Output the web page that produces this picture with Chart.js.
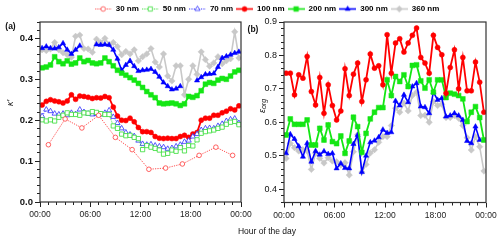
<!DOCTYPE html>
<html><head><meta charset="utf-8">
<script src="https://cdn.jsdelivr.net/npm/chart.js@4/dist/chart.umd.min.js"></script>
<style>
html,body{margin:0;padding:0;background:#fff;}
#wrap{position:relative;width:500px;height:243px;overflow:hidden;background:#fff;}
#wrap canvas{position:absolute;top:0;}
</style></head><body>
<div id="wrap">
<canvas id="frame" width="500" height="243" style="left:0"></canvas>
<canvas id="ca" width="262" height="243" style="left:0"></canvas>
<canvas id="cb" width="260" height="243" style="left:240px"></canvas>
</div>
<script>
// ---------------- data ----------------
const SIZES = ['30 nm','50 nm','70 nm','100 nm','200 nm','300 nm','360 nm'];
const HOURS = [0.25,0.75,1.25,1.75,2.25,2.75,3.25,3.75,4.25,4.75,5.25,5.75,
               6.25,6.75,7.25,7.75,8.25,8.75,9.25,9.75,10.25,10.75,11.25,11.75,
               12.25,12.75,13.25,13.75,14.25,14.75,15.25,15.75,16.25,16.75,17.25,17.75,
               18.25,18.75,19.25,19.75,20.25,20.75,21.25,21.75,22.25,22.75,23.25,23.75];
const HOURS_30 = [1,3,5,7,9,11,13,15,17,19,21,23];
const HOUR_TICKS = [0,6,12,18,24];
const KAPPA_TICKS = [0,0.1,0.2,0.3,0.4];
const EORG_TICKS = [0.4,0.5,0.6,0.7,0.8,0.9];

// panel (a): kappa
const K30 = [0.140,0.203,0.181,0.212,0.158,0.128,0.080,0.083,0.093,0.114,0.134,0.114];
const K50 = [0.201,0.198,0.201,0.198,0.207,0.212,0.218,0.214,0.214,0.212,0.218,0.217,
             0.221,0.219,0.216,0.214,0.214,0.186,0.180,0.166,0.162,0.163,0.158,0.155,
             0.128,0.138,0.134,0.131,0.127,0.117,0.119,0.127,0.124,0.133,0.125,0.138,
             0.137,0.152,0.168,0.172,0.174,0.176,0.180,0.183,0.190,0.195,0.197,0.189];
const K70 = [0.210,0.226,0.222,0.216,0.214,0.216,0.212,0.218,0.215,0.226,0.220,0.216,
             0.214,0.215,0.214,0.218,0.224,0.208,0.193,0.180,0.170,0.165,0.161,0.150,
             0.142,0.140,0.141,0.138,0.136,0.134,0.130,0.132,0.136,0.140,0.147,0.150,
             0.160,0.166,0.176,0.180,0.181,0.180,0.186,0.191,0.198,0.202,0.204,0.193];
const K100 = [0.237,0.246,0.250,0.247,0.245,0.242,0.247,0.262,0.251,0.259,0.258,0.256,
              0.253,0.255,0.254,0.258,0.255,0.232,0.210,0.200,0.199,0.205,0.196,0.182,
              0.172,0.172,0.170,0.160,0.156,0.155,0.156,0.155,0.155,0.160,0.163,0.158,
              0.166,0.170,0.200,0.205,0.205,0.212,0.212,0.218,0.222,0.228,0.225,0.235];
const K200 = [0.328,0.330,0.335,0.355,0.343,0.338,0.345,0.337,0.340,0.352,0.343,0.346,
              0.340,0.338,0.340,0.352,0.343,0.333,0.322,0.315,0.310,0.304,0.298,0.290,
              0.280,0.270,0.262,0.255,0.242,0.240,0.241,0.242,0.240,0.236,0.240,0.258,
              0.256,0.260,0.272,0.288,0.292,0.290,0.298,0.302,0.300,0.308,0.318,0.322];
const K300 = [0.376,0.380,0.376,0.375,0.378,0.388,0.372,0.362,0.372,0.382,null,null,
              null,0.385,0.384,0.385,0.384,0.372,0.350,0.322,0.335,0.345,0.332,0.320,
              0.322,0.323,0.325,0.318,0.306,0.292,0.283,0.275,0.277,0.283,null,null,
              null,0.297,0.305,0.312,0.313,0.314,0.330,0.352,0.356,0.360,0.364,0.367];
const K360 = [0.372,0.370,0.374,0.390,0.372,0.365,0.360,0.354,0.405,0.408,0.375,0.374,
              0.366,0.398,0.390,0.400,0.385,0.390,0.380,0.360,0.368,0.362,0.372,0.345,
              0.355,0.362,0.375,0.342,0.330,0.362,0.308,0.296,0.333,0.333,0.262,0.300,
              0.333,0.312,0.367,0.348,0.332,0.340,0.355,0.338,0.345,0.350,0.416,0.352];

// panel (b): epsilon_org
const E100 = [0.747,0.747,0.682,0.742,0.732,0.797,0.692,0.652,0.734,0.627,0.712,0.650,
              0.607,0.634,0.760,0.680,0.744,0.777,0.662,0.727,0.804,0.762,0.769,0.712,
              0.862,0.747,0.837,0.850,0.810,0.837,0.860,0.882,0.794,0.777,0.747,0.860,
              0.824,0.802,0.687,0.764,0.817,0.700,0.794,0.694,0.694,0.780,0.720,0.630];
const E200 = [0.562,0.610,0.594,0.594,0.594,0.607,0.532,0.532,0.582,0.547,0.592,0.542,
              0.536,0.559,0.507,0.544,0.615,0.587,0.510,0.567,0.610,0.630,0.644,0.644,
              0.727,0.680,0.737,0.722,0.742,0.707,0.770,0.772,0.724,0.702,0.727,0.690,
              0.727,0.727,0.674,0.687,0.684,0.680,0.670,0.602,0.630,0.647,0.614,0.547];
const E300 = [0.507,0.564,0.550,0.528,0.497,0.537,0.482,0.514,0.503,0.513,0.505,0.507,
              0.462,0.477,0.463,0.462,0.535,0.562,0.451,0.500,0.540,0.545,0.555,0.578,
              0.568,0.570,0.664,0.650,0.682,0.660,0.707,0.717,0.647,0.645,0.627,0.690,
              0.667,0.672,0.617,0.620,0.627,0.620,0.607,0.544,0.537,0.587,0.547,null];
const E360 = [0.492,0.537,0.524,0.514,0.518,0.514,0.459,0.507,0.492,0.478,0.494,0.484,
              0.482,0.472,0.479,0.442,0.512,0.563,0.451,0.474,0.508,0.518,0.540,0.557,
              0.557,0.590,0.642,0.630,0.657,0.634,0.680,0.690,0.620,0.621,0.600,0.662,
              0.650,0.654,0.614,0.614,0.620,0.612,0.590,0.554,0.517,0.557,0.527,0.454];

// ---------------- styles ----------------
const FONT = '"Liberation Sans", Arial, sans-serif';
const STYLE = {
  '30 nm':  {color:'#ff3b3b', point:'circle',   r:2.3, open:true,  dash:[1.2,1.2], width:0.9},
  '50 nm':  {color:'#33dd33', point:'rect',     r:3.0, open:true,  dash:[1.2,1.2], width:0.9},
  '70 nm':  {color:'#3030ff', point:'triangle', r:3.0, open:true,  dash:[1.2,1.2], width:0.9},
  '100 nm': {color:'#ff0000', point:'circle',   r:2.5, open:false, dash:[],        width:1.8},
  '200 nm': {color:'#14e614', point:'rect',     r:3.4, open:false, dash:[],        width:1.8},
  '300 nm': {color:'#0000ff', point:'triangle', r:3.0, open:false, dash:[],        width:1.6},
  '360 nm': {color:'#c8c8c8', point:'rectRot',  r:3.2, open:false, dash:[],        width:1.6}
};

function pts(xs, ys){ return xs.map((x,i)=>({x:x, y:ys[i]})); }

function makeDataset(label, xs, ys){
  const s = STYLE[label];
  return {
    label: label, data: pts(xs, ys), xAxisID:'x', yAxisID:'y',
    borderColor: s.color, borderWidth: s.width, borderDash: s.dash,
    pointStyle: s.point, pointRadius: s.r, pointHoverRadius: s.r,
    pointBackgroundColor: s.open ? '#ffffff' : s.color,
    pointBorderColor: s.color, pointBorderWidth: s.open ? 0.8 : 0.5,
    fill:false, tension:0, spanGaps:false
  };
}

// legend icons: line + marker
function drawMarker(c, kind, x, y, r){
  c.beginPath();
  if (kind==='circle'){ c.arc(x,y,r,0,Math.PI*2); }
  else if (kind==='rect'){ const h=r*Math.SQRT1_2; c.rect(x-h,y-h,2*h,2*h); }
  else if (kind==='triangle'){
    c.moveTo(x, y-r); c.lineTo(x+r*0.866, y+r*0.5); c.lineTo(x-r*0.866, y+r*0.5); c.closePath();
  } else if (kind==='rectRot'){
    c.moveTo(x,y-r); c.lineTo(x+r,y); c.lineTo(x,y+r); c.lineTo(x-r,y); c.closePath();
  }
  c.fill(); c.stroke();
}
function legendIcon(label){
  const s = STYLE[label];
  const cv = document.createElement('canvas'); cv.width = 17; cv.height = 9;
  const c = cv.getContext('2d');
  c.strokeStyle = s.color; c.lineWidth = s.open ? 1 : 1.6; c.setLineDash(s.open ? [1.2,1.2] : []);
  c.beginPath(); c.moveTo(0,4.5); c.lineTo(17,4.5); c.stroke();
  c.setLineDash([]);
  c.fillStyle = s.open ? '#ffffff' : s.color; c.lineWidth = s.open ? 0.8 : 0.5;
  drawMarker(c, s.point, 8.5, 4.5, s.r);
  return cv;
}

// ---------------- plugins ----------------
const boxFrame = {
  id:'boxframe',
  afterDraw(chart, args, opts){
    const a = chart.chartArea, c = chart.ctx;
    c.save(); c.strokeStyle = opts.color || '#222'; c.lineWidth = opts.width || 1;
    c.strokeRect(a.left, a.top, a.right - a.left, a.bottom - a.top);
    c.restore();
  }
};
const annot = {
  id:'annot',
  afterDraw(chart, args, opts){
    const c = chart.ctx;
    (opts.items || []).forEach(it => {
      c.save();
      c.translate(it.x, it.y);
      if (it.rotate) c.rotate(it.rotate * Math.PI / 180);
      c.fillStyle = it.color || '#111';
      c.textBaseline = 'middle';
      c.font = it.font;
      const w1 = c.measureText(it.text).width;
      let w2 = 0;
      if (it.sub){ c.font = it.subFont; w2 = c.measureText(it.sub).width; }
      const x0 = -(w1 + w2) / 2;
      c.font = it.font; c.textAlign = 'left';
      c.fillText(it.text, x0, 0);
      if (it.sub){ c.font = it.subFont; c.fillText(it.sub, x0 + w1, 2.5); }
      c.restore();
    });
  }
};

// ---------------- frame chart: legend + x title ----------------
new Chart(document.getElementById('frame'), {
  type:'line',
  data:{ datasets: SIZES.map(l => ({label:l, data:[]})) },
  options:{
    responsive:false, animation:false, devicePixelRatio:1,
    layout:{ padding:{ left:34, right:0, top:2, bottom:0 } },
    scales:{ x:{display:false}, y:{display:false} },
    plugins:{
      tooltip:{enabled:false},
      legend:{
        display:true, position:'top', align:'center',
        labels:{
          usePointStyle:true, pointStyleWidth:17, boxHeight:8, padding:3,
          color:'#111', font:{family:FONT, size:8, weight:'bold'},
          generateLabels: chart => chart.data.datasets.map((ds,i) => ({
            text: ds.label, pointStyle: legendIcon(ds.label), fillStyle:'#fff',
            strokeStyle: STYLE[ds.label].color, lineWidth:0, hidden:false, datasetIndex:i
          }))
        }
      },
      title:{
        display:true, position:'bottom', text:'Hour of the day', color:'#111',
        font:{family:FONT, size:8.5, weight:'normal'}, padding:{top:0, bottom:6}
      }
    }
  }
});

// ---------------- axis helpers ----------------
function fixedTicks(list){ return s => { s.ticks = list.map(v => ({value:v})); }; }
function minorTicks(min, max, step){
  return s => { const t=[]; const n=Math.round((max-min)/step);
    for (let i=0;i<=n;i++) t.push({value: +(min + i*step).toFixed(4)}); s.ticks = t; };
}
const hourLabel = v => String(v % 24).padStart(2,'0') + ':00';

function scalesFor(ymin, ymax, yticks, ystep, yWidth, yFont){
  return {
    x:{ type:'linear', min:0, max:24, position:'bottom', weight:1,
        afterBuildTicks: fixedTicks(HOUR_TICKS),
        afterFit: s => { s.height = 20; },
        ticks:{ callback: hourLabel, color:'#222', font:{family:FONT, size:8.5}, padding:3, maxRotation:0, autoSkip:false },
        grid:{ drawOnChartArea:false, tickLength:5, color:'#222', tickWidth:1 },
        border:{ display:false } },
    xm:{ type:'linear', min:0, max:24, position:'bottom', weight:0,
        afterBuildTicks: minorTicks(0, 24, 1),
        afterFit: s => { s.height = 0; },
        ticks:{ display:false },
        grid:{ drawOnChartArea:false, tickLength:3, color:'#222', tickWidth:1 },
        border:{ display:false } },
    y:{ type:'linear', min:ymin, max:ymax, position:'left', weight:1,
        afterBuildTicks: fixedTicks(yticks),
        afterFit: s => { s.width = yWidth; },
        ticks:{ callback: v => v.toFixed(1), color:'#111', font:yFont, padding:2 },
        grid:{ drawOnChartArea:false, tickLength:5, color:'#222', tickWidth:1 },
        border:{ display:false } },
    ym:{ type:'linear', min:ymin, max:ymax, position:'left', weight:0,
        afterBuildTicks: minorTicks(ymin, ymax, ystep),
        afterFit: s => { s.width = 0; },
        ticks:{ display:false },
        grid:{ drawOnChartArea:false, tickLength:3, color:'#222', tickWidth:1 },
        border:{ display:false } }
  };
}

// ---------------- panel (a) ----------------
new Chart(document.getElementById('ca'), {
  type:'line',
  data:{ datasets:[
    makeDataset('30 nm', HOURS_30, K30),
    makeDataset('50 nm', HOURS, K50),
    makeDataset('70 nm', HOURS, K70),
    makeDataset('100 nm', HOURS, K100),
    makeDataset('200 nm', HOURS, K200),
    makeDataset('300 nm', HOURS, K300),
    makeDataset('360 nm', HOURS, K360)
  ]},
  plugins:[boxFrame, annot],
  options:{
    responsive:false, animation:false, devicePixelRatio:1,
    layout:{ padding:{ top:22, right:21, bottom:21, left:0 } },
    scales: scalesFor(0, 0.44, KAPPA_TICKS, 0.02, 40, {family:FONT, size:9.5, weight:'bold'}),
    plugins:{
      legend:{display:false}, tooltip:{enabled:false},
      boxframe:{color:'#333', width:1.2},
      annot:{ items:[
        {text:'(a)', x:10.5, y:26.5, font:'bold 8.5px ' + FONT},
        {text:'\u03BA\u2032', x:10, y:103, rotate:-90, font:'italic 9px ' + FONT}
      ]}
    }
  }
});

// ---------------- panel (b) ----------------
new Chart(document.getElementById('cb'), {
  type:'line',
  data:{ datasets:[
    makeDataset('100 nm', HOURS, E100),
    makeDataset('200 nm', HOURS, E200),
    makeDataset('300 nm', HOURS, E300),
    makeDataset('360 nm', HOURS, E360)
  ]},
  plugins:[boxFrame, annot],
  options:{
    responsive:false, animation:false, devicePixelRatio:1,
    layout:{ padding:{ top:22, right:14, bottom:20.5, left:0 } },
    scales: scalesFor(0.36, 0.9, EORG_TICKS, 0.02, 44, {family:FONT, size:9, weight:'normal'}),
    plugins:{
      legend:{display:false}, tooltip:{enabled:false},
      boxframe:{color:'#333', width:1.2},
      annot:{ items:[
        {text:'(b)', x:13, y:29.5, font:'bold 8.5px ' + FONT},
        {text:'\u03B5', sub:'org', x:22, y:106, rotate:-90, font:'italic 9px ' + FONT, subFont:'italic 7px ' + FONT}
      ]}
    }
  }
});
</script>
</body></html>
